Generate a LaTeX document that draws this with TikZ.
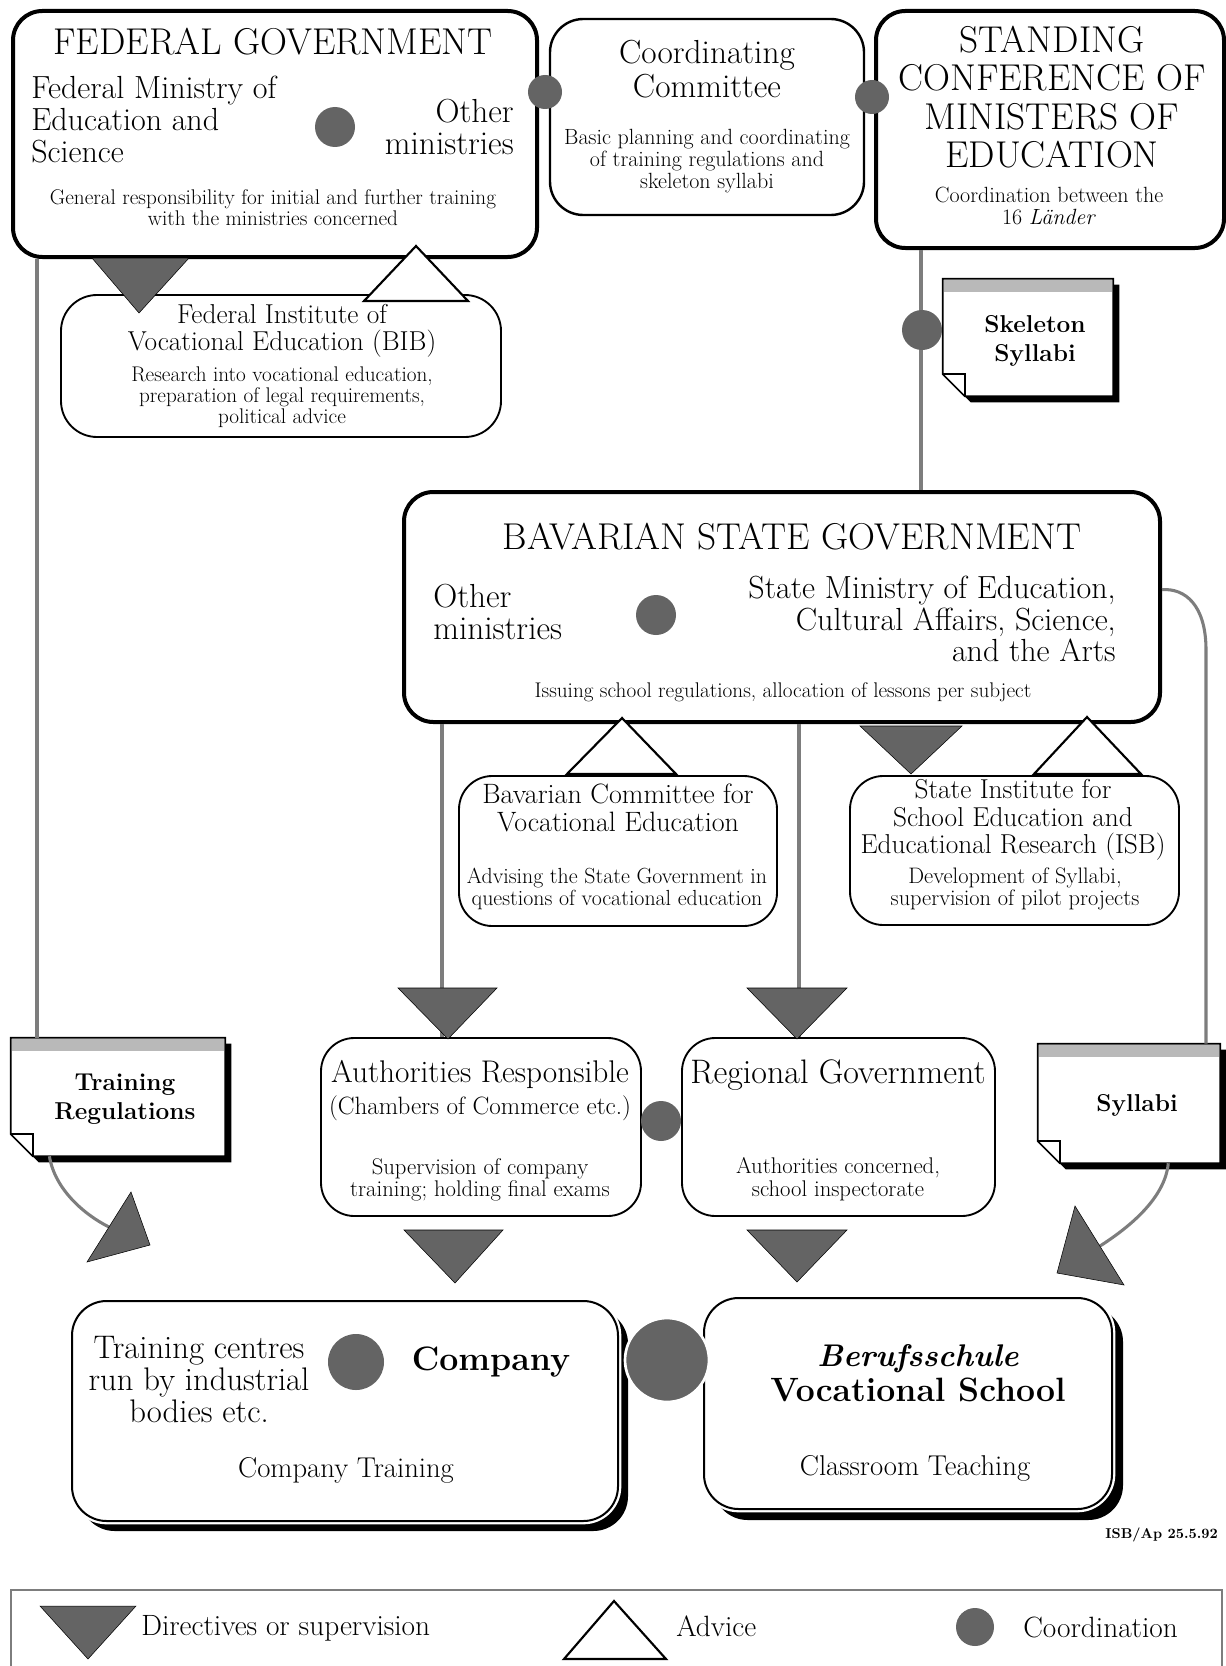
\documentclass[tikz,border=0pt]{standalone}
\usepackage{tikz}
\usetikzlibrary{calc,backgrounds}

\definecolor{dotgray}{RGB}{100,100,100}
\definecolor{linegray}{RGB}{125,125,125}

\newcommand\fsz[2]{\fontsize{#1}{#2}\selectfont}

% folded memo sheet behind a named node
\newcommand\memo[1]{%
\fill[black] ($(#1.north west)+(6,6)$) -- ($(#1.north east)+(6,6)$) -- ($(#1.south east)+(6,6)$) -- ($(#1.south west)+(28,6)$) -- ($(#1.south west)+(6,-16)$) -- cycle;
\draw[line width=1.2pt, fill=white] (#1.north west) -- (#1.north east) -- (#1.south east) -- ($(#1.south west)+(22,0)$) -- ($(#1.south west)+(0,-22)$) -- cycle;
\fill[gray!55] ($(#1.north west)+(1,1)$) rectangle ($(#1.north east)+(-1,13)$);
\draw[line width=1.2pt] ($(#1.south west)+(0,-22)$) -- ($(#1.south west)+(22,-22)$) -- ($(#1.south west)+(22,0)$);
}

\tikzset{
  boxsize/.style 2 args={minimum width=#1*0.75pt, minimum height=#2*0.75pt},
  govbox/.style={draw, line width=3pt, rounded corners=22pt, fill=white, inner sep=0pt},
  thinbox/.style={draw, line width=1.4pt, rounded corners=25pt, fill=white, inner sep=0pt},
  shadebox/.style={draw, line width=1.5pt, rounded corners=26pt, fill=white, inner sep=0pt, preaction={draw=white, line width=5pt}},
  memobox/.style={inner sep=0pt},
  coordball/.style={circle, fill=dotgray, inner sep=0pt, minimum size=#1*1.5pt},
  feed/.style={draw=linegray, line width=2.3pt},
  directive/.style={fill=dotgray},
  advice/.style={draw, line width=1.6pt, fill=white},
  headtext/.style={font=\fsz{28}{28.7}, align=center, inner sep=0pt},
  midtext/.style={font=\fsz{24}{24}, inner sep=0pt},
  subtext/.style={font=\fsz{20.5}{20.5}, align=center, inner sep=0pt},
  desc/.style={font=\fsz{15.9}{15.9}, align=center, inner sep=0pt},
  memotext/.style={font=\bfseries\fsz{18.3}{22}, align=center, inner sep=0pt},
  legendtext/.style={font=\fsz{22}{22}, anchor=west, inner sep=0pt}
}

\begin{document}
\begin{tikzpicture}[x=0.75pt,y=0.75pt,yscale=-1,xscale=1]
\useasboundingbox (0,0) rectangle (1226,1666);

%Shape: Rounded Rect
\node[govbox, boxsize={524}{246}] (fedgov) at (275,134) {};
\node[thinbox, line width=1.8pt, boxsize={314}{196}] (cocom) at (707,117) {};
\node[govbox, boxsize={348}{237}] (kmk) at (1050,129.5) {};
\node[thinbox, rounded corners=27pt, boxsize={440}{142}] (bibb) at (281,366) {};
\node[govbox, boxsize={756}{230}] (bavgov) at (782,607) {};
\node[thinbox, boxsize={318}{150}] (bavcom) at (618,851) {};
\node[thinbox, boxsize={329}{149}] (isb) at (1014.5,850.5) {};
\node[thinbox, boxsize={320}{178}] (auth) at (481,1127) {};
\node[thinbox, boxsize={313}{178}] (regio) at (838.5,1127) {};
\node[shadebox, boxsize={546}{220}] (company) at (345,1411) {};
\node[shadebox, boxsize={408}{211}] (school) at (908,1403.5) {};
%Shape: Memo
\node[memobox, boxsize={214}{118}] (trnote) at (118,1097) {};
\node[memobox, boxsize={170}{117}] (skelnote) at (1028,337.5) {};
\node[memobox, boxsize={182}{119}] (sylnote) at (1129,1103.5) {};

\begin{scope}[on background layer]
\fill[white] (0,0) rectangle (1226,1666);
\fill[black, rounded corners=26pt] ($(company.north west)+(9,9)$) rectangle ($(company.south east)+(9,9)$);
\fill[black, rounded corners=26pt] ($(school.north west)+(10,10)$) rectangle ($(school.south east)+(10,10)$);
\memo{trnote}
\memo{skelnote}
\memo{sylnote}
\end{scope}

%Straight Lines
\coordinate (trx) at (37,0);
\draw[feed] (fedgov.south -| trx) -- (trnote.north -| trx);
\coordinate (kmkx) at (921,0);
\draw[feed] (kmk.south -| kmkx) -- (bavgov.north -| kmkx);
\coordinate (authx) at (442,0);
\draw[feed] (bavgov.south -| authx) -- (auth.north -| authx);
\coordinate (regx) at (799,0);
\draw[feed] (bavgov.south -| regx) -- (regio.north -| regx);
%Curve Lines
\coordinate (sylx) at (1206,0);
\draw[feed] ([yshift=-13pt]bavgov.east) .. controls (1185,588) and (1206,605) .. (1206,650) -- (sylnote.north -| sylx);
\coordinate (trend) at (109,1227);
\draw[feed] ([xshift=29pt]trnote.south west) .. controls (55,1190) and (85,1215) .. (trend);
\coordinate (sylend) at (1100,1246);
\draw[feed] ([xshift=-39pt]sylnote.south east) .. controls (1165,1200) and (1125,1230) .. (sylend);

%Shape: Triangle
\draw[directive] (92,258) -- (189,258) -- (139,313) -- cycle;
\draw[advice] (364,301) -- (468,301) -- (416,246) -- cycle;
\draw[advice] (567,774) -- (676,774) -- (622,718) -- cycle;
\draw[directive] (860,726) -- (962,726) -- (911,774) -- cycle;
\draw[advice] (1034,774) -- (1141,774) -- (1087,717) -- cycle;
\draw[directive] (398,988) -- (497,988) -- (448,1039) -- cycle;
\draw[directive] (747,988) -- (847,988) -- (797,1039) -- cycle;
\draw[directive] (404,1230) -- (503,1230) -- (455,1283) -- cycle;
\draw[directive] (747,1230) -- (847,1230) -- (797,1282) -- cycle;
\draw[directive] (131,1192) -- (87,1262) -- (150,1245) -- cycle;
\draw[directive] (1075,1206) -- (1124,1285) -- (1057,1273) -- cycle;

%Shape: Circle
\node[coordball=17] (fedcoc) at (545,92) {};
\node[coordball=17] (cockmk) at (872,97) {};
\node[coordball=20] (fedin) at (335,127) {};
\node[coordball=20] (skelc) at (922,330) {};
\node[coordball=20] (bavin) at (656,615) {};
\node[coordball=20] (authreg) at (661,1121) {};
\node[coordball=28] (compin) at (356,1362) {};
\node[coordball=42, draw=white, line width=2pt] (compsch) at (667,1360) {};

% Text Node
\node[headtext] (fedgovT) at (273,42) {FEDERAL GOVERNMENT};
\node[midtext, anchor=west, align=left] (fedminT) at (31,120) {Federal Ministry of\\Education and\\Science};
\node[midtext, font=\fsz{25}{24}, anchor=east, align=right] (fedothT) at (514,127) {Other\\ministries};
\node[desc] (fedgovD) at (273,208) {General responsibility for initial and further training\\with the ministries concerned};

\node[font=\fsz{25}{25}, align=center, inner sep=0pt] (cocomT) at (707,69) {Coordinating\\Committee};
\node[desc, font=\fsz{16.5}{16.5}] (cocomD) at (707,161) {Basic planning and coordinating\\of training regulations and\\skeleton syllabi};

\node[headtext] (kmkT) at (1052,97) {STANDING\\CONFERENCE OF\\MINISTERS OF\\EDUCATION};
\node[desc, font=\fsz{16.5}{16.5}] (kmkD) at (1049,206) {Coordination between the\\16 \textit{Länder}};

\node[subtext] (bibbT) at (282,331) {Federal Institute of\\Vocational Education (BIB)};
\node[desc] (bibbD) at (282,397) {Research into vocational education,\\preparation of legal requirements,\\political advice};

\node[headtext] (bavgovT) at (792,537) {BAVARIAN STATE GOVERNMENT};
\node[midtext, font=\fsz{25}{24}, anchor=west, align=left] (bavothT) at (433,612) {Other\\ministries};
\node[midtext, font=\fsz{24}{23.5}, anchor=east, align=right] (bavminT) at (1116,619) {State Ministry of Education,\\Cultural Affairs, Science,\\and the Arts};
\node[desc] (bavgovD) at (783,692) {Issuing school regulations, allocation of lessons per subject};

\node[subtext, font=\fsz{21}{21}] (bavcomT) at (618,808) {Bavarian Committee for\\Vocational Education};
\node[desc, font=\fsz{16.4}{16.4}] (bavcomD) at (617,889) {Advising the State Government in\\questions of vocational education};

\node[subtext] (isbT) at (1013,820) {State Institute for\\School Education and\\Educational Research (ISB)};
\node[desc, font=\fsz{16.8}{16.8}] (isbD) at (1015,889) {Development of Syllabi,\\supervision of pilot projects};

\node[font=\fsz{23.5}{23}, inner sep=0pt] (authT) at (480,1074) {Authorities Responsible};
\node[font=\fsz{18.8}{19}, inner sep=0pt] (authS) at (480,1108) {(Chambers of Commerce etc.)};
\node[desc, font=\fsz{17}{17}] (authD) at (480,1180) {Supervision of company\\training; holding final exams};

\node[font=\fsz{25.5}{25}, inner sep=0pt] (regioT) at (838,1075) {Regional Government};
\node[desc, font=\fsz{17}{17}] (regioD) at (838,1179) {Authorities concerned,\\school inspectorate};

\node[font=\fsz{24.5}{24}, align=center, inner sep=0pt] (companyL) at (199,1380) {Training centres\\run by industrial\\bodies etc.};
\node[font=\bfseries\fsz{25.4}{25}, inner sep=0pt] (companyT) at (491,1362) {Company};
\node[font=\fsz{21.5}{21}, inner sep=0pt] (companyD) at (346,1470) {Company Training};

\node[font=\bfseries\fsz{25.3}{26}, align=center, inner sep=0pt] (schoolT) at (918,1373) {{\itshape\fsz{23.5}{26}Berufsschule}\\Vocational School};
\node[font=\fsz{21.5}{21}, inner sep=0pt] (schoolD) at (915,1468) {Classroom Teaching};

\node[memotext] (trnoteT) at (125,1099) {Training\\Regulations};
\node[memotext] (skelnoteT) at (1035,341) {Skeleton\\Syllabi};
\node[memotext] (sylnoteT) at (1137,1105) {Syllabi};

\node[font=\bfseries\fsz{10.7}{11}, anchor=east, inner sep=0pt] (stamp) at (1218,1535) {ISB/Ap 25.5.92};

%Shape: Legend
\node[draw=linegray, line width=1pt, boxsize={1211}{82}] (legend) at (616.5,1631) {};
\draw[directive] (40,1606) -- (136,1606) -- (88,1659) -- cycle;
\node[legendtext] (legdir) at (141,1628) {Directives or supervision};
\draw[advice] (564,1659) -- (666,1659) -- (614,1601) -- cycle;
\node[legendtext] (legadv) at (676,1626) {Advice};
\node[coordball=19] (legcoo) at (975,1627) {};
\node[legendtext] (legcooT) at (1023,1627) {Coordination};
\end{tikzpicture}
\end{document}
